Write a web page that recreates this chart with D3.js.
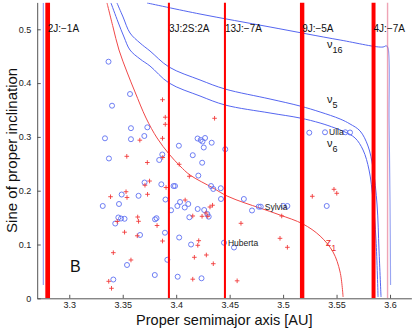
<!DOCTYPE html>
<html>
<head>
<meta charset="utf-8">
<script src="https://cdn.jsdelivr.net/npm/d3@7/dist/d3.min.js"></script>
<style>
  body { margin: 0; background: #fff; }
  svg { display: block; font-family: 'Liberation Sans', Arial, sans-serif; }
</style>
</head>
<body>
<div class="chart"></div>
<script>
// mean motion resonances: name, centre [AU], width [AU]
var resNames = ['2J:\u22121A', '3J:2S:2A', '13J:\u22127A', '9J:\u22125A', '4J:\u22127A']
  , resA = [3.2798, 3.3932, 3.4456, 3.5178, 3.5846]
  , resWidth = [0.0044, 0.0019, 0.0019, 0.0041, 0.0037];

// thin border lines of the region
var edgeA = 3.5977
  , innerEdge = [[3.2757, 0.549], [3.2757, 0.0247]];

// secular resonances [a, sin i]
var nu5 = [[3.3446, 0.549], [3.3503, 0.5229], [3.3568, 0.4931], [3.3662, 0.4745], [3.3755, 0.4597],
           [3.3933, 0.4299], [3.4223, 0.4058], [3.4457, 0.3890], [3.4878, 0.3704], [3.5158, 0.3574],
           [3.5346, 0.3463], [3.5533, 0.3333], [3.5626, 0.3240], [3.5720, 0.3110], [3.5794, 0.2831],
           [3.5841, 0.2422], [3.5879, 0.1734], [3.5897, 0.0898], [3.5916, 0.0024]];

var nu6 = [[3.3390, 0.549], [3.3456, 0.5136], [3.3512, 0.4857], [3.3568, 0.4615], [3.3662, 0.4448],
           [3.3755, 0.4318], [3.3933, 0.4002], [3.4223, 0.3760], [3.4457, 0.3593], [3.4878, 0.3444],
           [3.5158, 0.3351], [3.5346, 0.3258], [3.5486, 0.3165], [3.5579, 0.3091], [3.5673, 0.2980],
           [3.5748, 0.2756], [3.5804, 0.2385], [3.5841, 0.1827], [3.5869, 0.1084], [3.5888, 0.0024]];

var nu16 = [[3.3727, 0.549], [3.4223, 0.5284], [3.4878, 0.5043], [3.5533, 0.4801], [3.5935, 0.4671],
            [3.5963, 0.4699], [3.5981, 0.4652], [3.5991, 0.3314], [3.6000, 0.1827], [3.6005, 0.0247]];

var z1 = [[3.3353, 0.549], [3.3409, 0.5043], [3.3465, 0.4615], [3.3540, 0.4206], [3.3615, 0.3835],
          [3.3718, 0.3351], [3.3821, 0.2980], [3.3933, 0.2682], [3.4036, 0.2459], [3.4129, 0.2292],
          [3.4345, 0.2050], [3.4476, 0.1901], [3.4644, 0.1771], [3.4784, 0.1678], [3.4971, 0.1548],
          [3.5186, 0.1381], [3.5346, 0.1158], [3.5467, 0.0861], [3.5533, 0.0489], [3.5561, 0.0024]];

// asteroids: circles and crosses [a, sin i]
var circles = [[3.3367, 0.4398], [3.3568, 0.3797], [3.3400, 0.3580], [3.3577, 0.3162], [3.3730, 0.3178],
  [3.3334, 0.2974], [3.3577, 0.2957], [3.3702, 0.3017], [3.3371, 0.2599], [3.3870, 0.2673],
  [3.3841, 0.2571], [3.3704, 0.2152], [3.3861, 0.2119], [3.3975, 0.2087], [3.3989, 0.2087],
  [3.3490, 0.1929], [3.3648, 0.1905], [3.3900, 0.1836], [3.3313, 0.1716], [3.3465, 0.1753],
  [3.3952, 0.1636], [3.3459, 0.1502], [3.3484, 0.1483], [3.3517, 0.1478], [3.3430, 0.1390],
  [3.3802, 0.1468], [3.3816, 0.1489], [3.3895, 0.1219], [3.3662, 0.1177], [3.3917, 0.0716],
  [3.3540, 0.0619], [3.3800, 0.0433], [3.3412, 0.0349],
  [3.4200, 0.2970], [3.4229, 0.2942], [3.4270, 0.2980], [3.4246, 0.2914], [3.4332, 0.2892],
  [3.4025, 0.2836], [3.4258, 0.2803], [3.4459, 0.2771], [3.4155, 0.2660], [3.4243, 0.2520],
  [3.4207, 0.2281], [3.4326, 0.2087], [3.4347, 0.2032], [3.4417, 0.2046], [3.4036, 0.1790],
  [3.4113, 0.1753], [3.4011, 0.1716], [3.4080, 0.1688], [3.4419, 0.1846], [3.4633, 0.1846],
  [3.4709, 0.1632], [3.4772, 0.1703], [3.4791, 0.1703], [3.4201, 0.1660], [3.4262, 0.1641],
  [3.4291, 0.1567], [3.4304, 0.1517], [3.4123, 0.1506], [3.4028, 0.1130], [3.4139, 0.1000],
  [3.4447, 0.1033], [3.4541, 0.0944], [3.4014, 0.0401], [3.4237, 0.0372],
  [3.5245, 0.3078], [3.5392, 0.3086], [3.5582, 0.3086], [3.5626, 0.3082], [3.5002, 0.1716],
  [3.5040, 0.1716], [3.5408, 0.1716]];

var crosses = [[3.3872, 0.3691], [3.3898, 0.3366], [3.3898, 0.3234], [3.3872, 0.2974], [3.3660, 0.2939],
  [3.3538, 0.2639], [3.3730, 0.2524], [3.3874, 0.2617], [3.3751, 0.2180], [3.3708, 0.2102],
  [3.3905, 0.2059], [3.3531, 0.1981], [3.3732, 0.1933], [3.3386, 0.1888], [3.3540, 0.1874],
  [3.3640, 0.1511], [3.3648, 0.1431], [3.3449, 0.1428], [3.3821, 0.1353], [3.3517, 0.1229],
  [3.3636, 0.1162], [3.3872, 0.1065], [3.3412, 0.0848], [3.3577, 0.0712], [3.3369, 0.0316],
  [3.3395, 0.0186],
  [3.4359, 0.3346], [3.4028, 0.2491], [3.4123, 0.2268], [3.4084, 0.1827], [3.4155, 0.1530],
  [3.4340, 0.1730], [3.4316, 0.1697], [3.4279, 0.1586], [3.4242, 0.1524], [3.4295, 0.1524],
  [3.4606, 0.1394], [3.4211, 0.1071], [3.4202, 0.0985], [3.4282, 0.0805], [3.4170, 0.0762],
  [3.4347, 0.0643], [3.4155, 0.0355], [3.4570, 0.0325],
  [3.4987, 0.1530], [3.4971, 0.1115], [3.5040, 0.0948], [3.5476, 0.2026], [3.5502, 0.1952],
  [3.5273, 0.1896]];

var namedAsteroids = ['Ulla', 'Sylvia', 'Huberta']
  , namedPos = [[3.5392, 0.3086], [3.4791, 0.1703], [3.4447, 0.1033]];

var xTicks = [3.3, 3.35, 3.4, 3.45, 3.5, 3.55, 3.6]
  , yTicks = [0, 0.1, 0.2, 0.3, 0.4, 0.5];

var w = 415
  , h = 329
  , blue = '#5566f0'
  , red = '#ff0000';

var svg = d3.select('.chart')
            .append('svg')
            .attr('width', w)
            .attr('height', h);

var x = d3.scaleLinear().domain([3.27, 3.62]).range([37.2, 411.4])
  , y = d3.scaleLinear().domain([0, 0.55]).range([298.3, 2.4]);

var line = d3.line()
  .x(function (d) { return x(d[0]); })
  .y(function (d) { return y(d[1]); })
  .curve(d3.curveCatmullRom);

svg.append('clipPath').attr('id', 'plot')
  .append('rect')
  .attr('x', x(3.27)).attr('y', y(0.55))
  .attr('width', x(3.62) - x(3.27)).attr('height', y(0) - y(0.55));

var plot = svg.append('g').attr('clip-path', 'url(#plot)');

// curves
plot.append('path').attr('d', line(innerEdge))
  .attr('fill', 'none').attr('stroke', '#7d8cf2').attr('stroke-width', 1);

[nu5, nu6].forEach(function (c) {
  plot.append('path').attr('d', line(c))
    .attr('fill', 'none').attr('stroke', blue).attr('stroke-width', 1);
});

plot.append('path').attr('d', line(nu16.slice(0, 6)))
  .attr('fill', 'none').attr('stroke', blue).attr('stroke-width', 1);
plot.append('path').attr('d', line(nu16.slice(5)))
  .attr('fill', 'none').attr('stroke', '#9aa6f2').attr('stroke-width', 1.2);

plot.append('path').attr('d', line(z1))
  .attr('fill', 'none').attr('stroke', '#f04848').attr('stroke-width', 1);

// asteroids
plot.selectAll('circle.ast')
  .data(circles)
  .enter()
  .append('circle')
  .attr('class', 'ast')
  .attr('cx', function (d) { return x(d[0]); })
  .attr('cy', function (d) { return y(d[1]); })
  .attr('r', 2.5)
  .attr('fill', 'none')
  .attr('stroke', '#5f70f2')
  .attr('stroke-width', 0.9);

plot.selectAll('path.cross')
  .data(crosses)
  .enter()
  .append('path')
  .attr('class', 'cross')
  .attr('d', function (d) {
    var cx = x(d[0]), cy = y(d[1]), r = 2.3;
    return 'M' + (cx - r) + ',' + cy + 'H' + (cx + r) + 'M' + cx + ',' + (cy - r) + 'V' + (cy + r);
  })
  .attr('stroke', '#f23a3a')
  .attr('stroke-width', 0.9);

// resonance bands
plot.append('line')
  .attr('x1', x(edgeA)).attr('x2', x(edgeA))
  .attr('y1', y(0)).attr('y2', y(0.55))
  .attr('stroke', 'rgba(225, 90, 120, 0.55)')
  .attr('stroke-width', 1.4);

plot.selectAll('line.res')
  .data(resA)
  .enter()
  .append('line')
  .attr('class', 'res')
  .attr('x1', function (d) { return x(d); })
  .attr('x2', function (d) { return x(d); })
  .attr('y1', y(0))
  .attr('y2', y(0.55))
  .attr('stroke', red)
  .attr('stroke-width', function (d, i) { return x(d + resWidth[i] / 2) - x(d - resWidth[i] / 2); });

svg.selectAll('text.res')
  .data(resNames)
  .enter()
  .append('text')
  .attr('class', 'res')
  .attr('x', function (d, i) { return x(resA[i]); })
  .attr('y', 32)
  .attr('font-size', 10)
  .attr('fill', '#111')
  .text(function (d) { return d; });

// axes
var xAxis = svg.append('g')
  .attr('transform', 'translate(0,' + y(0) + ')')
  .call(d3.axisBottom(x).tickValues(xTicks).tickSizeInner(-3.5).tickSizeOuter(0).tickPadding(3)
    .tickFormat(d3.format('')));

var yAxis = svg.append('g')
  .attr('transform', 'translate(' + x(3.27) + ',0)')
  .call(d3.axisLeft(y).tickValues(yTicks).tickSizeInner(-3.5).tickSizeOuter(0).tickPadding(6)
    .tickFormat(d3.format('')));

[xAxis, yAxis].forEach(function (a) {
  a.select('.domain').attr('stroke', '#555');
  a.selectAll('.tick line').attr('stroke', '#555');
  a.selectAll('.tick text').attr('font-size', 9).attr('fill', '#222')
    .attr('font-family', 'Liberation Sans, Arial, sans-serif');
});

svg.append('text')
  .attr('x', (x(3.27) + x(3.62)) / 2)
  .attr('y', 325)
  .attr('text-anchor', 'middle')
  .attr('font-size', 14.5)
  .attr('fill', '#111')
  .text('Proper semimajor axis [AU]');

svg.append('text')
  .attr('transform', 'translate(17,' + (y(0) + y(0.55)) / 2 + ') rotate(-90)')
  .attr('text-anchor', 'middle')
  .attr('font-size', 15)
  .attr('fill', '#111')
  .text('Sine of proper inclination');

// curve labels
var curveLabel = function (a, s, sub, col) {
  var t = svg.append('text')
    .attr('x', x(a))
    .attr('y', y(s))
    .attr('font-size', 11)
    .attr('fill', col);
  t.append('tspan').text(sub[0]);
  t.append('tspan').attr('dy', 5).attr('font-size', 9).text(sub[1]);
};

curveLabel(3.5411, 0.4650, ['\u03bd', '16'], '#111');
curveLabel(3.5411, 0.3630, ['\u03bd', '5'], '#111');
curveLabel(3.5411, 0.2820, ['\u03bd', '6'], '#111');
curveLabel(3.5400, 0.0980, ['z', '1'], '#e83030');

svg.selectAll('text.name')
  .data(namedAsteroids)
  .enter()
  .append('text')
  .attr('class', 'name')
  .attr('x', function (d, i) { return x(namedPos[i][0]) + 4; })
  .attr('y', function (d, i) { return y(namedPos[i][1]) + 3; })
  .attr('font-size', 8.5)
  .attr('fill', '#222')
  .text(function (d) { return d; });

svg.append('text')
  .attr('x', x(3.3007))
  .attr('y', y(0.0489))
  .attr('font-size', 16)
  .attr('fill', '#111')
  .text('B');
</script>
</body>
</html>
